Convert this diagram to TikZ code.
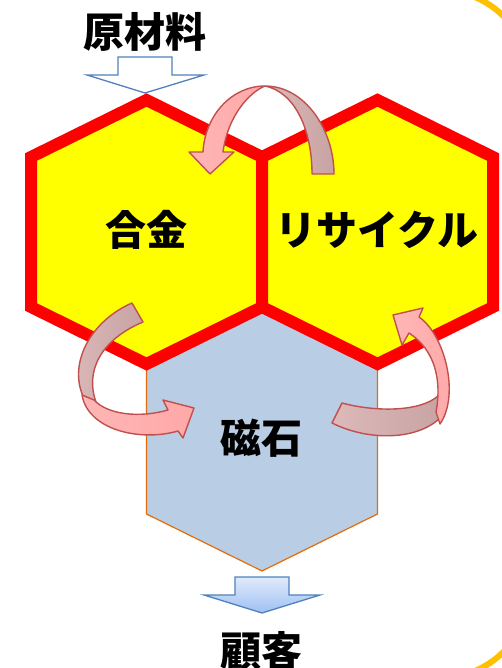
\documentclass[tikz,border=0pt]{standalone}
\usepackage{fontspec}
\newfontfamily\jpfont{Noto Sans CJK JP}

\definecolor{hexred}{HTML}{FF0000}
\definecolor{hexyellow}{HTML}{FFFF00}
\definecolor{magnetblue}{HTML}{B9CDE5}
\definecolor{magnetedge}{HTML}{E46C0A}
\definecolor{arrowblue}{HTML}{4F81BD}
\definecolor{arrowtop}{HTML}{E0EAFC}
\definecolor{arrowbottom}{HTML}{9FC0F2}
\definecolor{curveedge}{HTML}{C0504D}
\definecolor{curvelight}{HTML}{FFB6B6}
\definecolor{curvepink}{HTML}{FFA8A8}
\definecolor{curvegreyA}{HTML}{DDB9B9}
\definecolor{curvegreyB}{HTML}{C8A3A4}
\definecolor{frameorange}{HTML}{FFC000}

\tikzset{
    jptext/.style={font=\jpfont\bfseries\fontsize{41}{41}\selectfont, inner sep=0pt},
    hexcell/.style={draw=hexred, fill=hexyellow, line width=12pt, line join=miter},
    hexmagnet/.style={draw=magnetedge, fill=magnetblue, line width=1.2pt, line join=miter},
    blockarrow/.style={draw=arrowblue, line width=1.3pt, line join=miter},
    curvefront/.style={draw=curveedge, line width=1.4pt, line join=round, left color=curvelight, right color=curvepink},
    curveback/.style={draw=curveedge, line width=1.4pt, line join=round, left color=curvegreyA, right color=curvegreyB}
}

\begin{document}
\begin{tikzpicture}[x=1pt,y=1pt,yscale=-1]

    \useasboundingbox (0,0) rectangle (502,668);
    \clip (0,0) rectangle (502,668);

    % frame corner
    \draw[frameorange, line width=6pt, rounded corners=90pt] (-200,-10) rectangle (530,678);

    % cells
    \draw[hexmagnet] (262,439) ++(0,-132) -- ++(115.5,57) -- ++(0,150) -- ++(-115.5,57) -- ++(-115.5,-57) -- ++(0,-150) -- cycle;
    \draw[hexcell] (146.5,232) ++(0,-132) -- ++(115.5,57) -- ++(0,150) -- ++(-115.5,57) -- ++(-115.5,-57) -- ++(0,-150) -- cycle;
    \draw[hexcell] (377.5,232) ++(0,-132) -- ++(115.5,57) -- ++(0,150) -- ++(-115.5,57) -- ++(-115.5,-57) -- ++(0,-150) -- cycle;

    % in and out
    \draw[blockarrow, fill=white] (118,57) -- (172,57) -- (172,75) -- (204,75) -- (145,93) -- (87,75) -- (118,75) -- cycle;
    \draw[blockarrow, top color=arrowtop, bottom color=arrowbottom] (235,577) -- (289,577) -- (289,595) -- (320,595) -- (262,613) -- (204,595) -- (235,595) -- cycle;

    % alloy <- recycle
    \draw[curveback] (265,86) .. controls (305,86) and (334,130) .. (334,174) -- (312,174) .. controls (312,130) and (295,92) .. (265,86) -- cycle;
    \draw[curvefront] (203,152) .. controls (205,115) and (232,86) .. (265,86) .. controls (250,92) and (228,115) .. (223,152) -- (234,152) -- (210,174) -- (189,152) -- cycle;

    % alloy -> magnet
    \draw[curveback] (132,303) .. controls (88,322) and (64,370) .. (88,405) -- (96,402) .. controls (85,372) and (100,340) .. (143,322) -- cycle;
    \draw[curvefront] (82,395) .. controls (88,430) and (140,442) .. (178,431) -- (183,438) -- (194,408) -- (163,400) -- (168,410) .. controls (140,418) and (108,415) .. (94,400) -- cycle;

    % magnet -> recycle
    \draw[curveback] (342,403) .. controls (375,412) and (420,412) .. (438,396) -- (442,416) .. controls (420,440) and (370,442) .. (332,423) -- cycle;
    \draw[curvefront] (436,412) .. controls (442,380) and (435,350) .. (409,333) -- (402,345) -- (393,315) -- (423,308) -- (419,317) .. controls (445,335) and (460,395) .. (440,424) -- cycle;

    % labels
    \node[jptext] (raw)      at (145,32)  {原材料};
    \node[jptext] (alloy)    at (146,230) {合金};
    \node[jptext] (recycle)  at (377,230) {リサイクル};
    \node[jptext] (magnet)   at (261,438) {磁石};
    \node[jptext] (customer) at (261,651) {顧客};

\end{tikzpicture}
\end{document}
